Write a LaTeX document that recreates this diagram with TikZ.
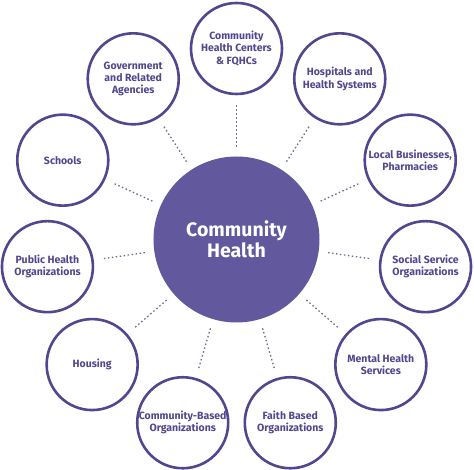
\documentclass[tikz,border=0pt]{standalone}
\usepackage{fontspec}
\setmainfont{Fira Sans}
\usepackage{xcolor}
\usepackage{tikz}
\usetikzlibrary{positioning}
\definecolor{hubpurple}{RGB}{98, 88, 158}
\definecolor{ringpurple}{RGB}{82, 70, 142}
\definecolor{dotgray}{RGB}{112, 106, 142}
\tikzset{
    hub/.style    ={circle, fill=hubpurple, minimum size=166pt, inner sep=0pt,
                    align=center, text=white,
                    font=\fontsize{19.5}{21.5}\selectfont\bfseries},
    partner/.style={circle, draw=ringpurple, line width=2.6pt, fill=white,
                    minimum size=91pt, inner sep=0pt, align=center,
                    text=ringpurple, font=\fontsize{10.5}{12.3}\selectfont\bfseries},
    link/.style   ={draw=dotgray, line width=1.3pt, dash pattern=on 1.5pt off 2.5pt,
                    shorten <=9.3pt, shorten >=7.7pt}
}

\begin{document}
\begin{tikzpicture}[x=1pt, y=1pt]
  \useasboundingbox (-236.5,-230.5) rectangle (237.5,239.5);

  % ---- centre
  \node[hub] (hub) at (0,0) {Community\\Health};

  % ---- partners, clockwise from the top
  \node[partner] (chc)     at (90:191)      {Community\\Health Centers\\\& FQHCs};
  \node[partner] (hosp)    at (57.27:191)   {Hospitals and\\Health Systems};
  \node[partner] (biz)     at (24.55:191)   {Local Businesses,\\Pharmacies};
  \node[partner] (social)  at (-8.18:191)   {Social Service\\Organizations};
  \node[partner] (mental)  at (-40.91:191)  {Mental Health\\Services};
  \node[partner] (faith)   at (-73.64:191)  {Faith Based\\Organizations};
  \node[partner] (cbo)     at (-106.36:191) {Community-Based\\Organizations};
  \node[partner] (housing) at (-139.09:191) {Housing};
  \node[partner] (pho)     at (-171.82:191) {Public Health\\Organizations};
  \node[partner] (schools) at (155.45:191)  {Schools};
  \node[partner] (gov)     at (122.73:191)  {Government\\and Related\\Agencies};

  % ---- dotted links
  \draw[link] (hub) -- (chc);
  \draw[link] (hub) -- (hosp);
  \draw[link] (hub) -- (biz);
  \draw[link] (hub) -- (social);
  \draw[link] (hub) -- (mental);
  \draw[link] (hub) -- (faith);
  \draw[link] (hub) -- (cbo);
  \draw[link] (hub) -- (housing);
  \draw[link] (hub) -- (pho);
  \draw[link] (hub) -- (schools);
  \draw[link] (hub) -- (gov);
\end{tikzpicture}
\end{document}
